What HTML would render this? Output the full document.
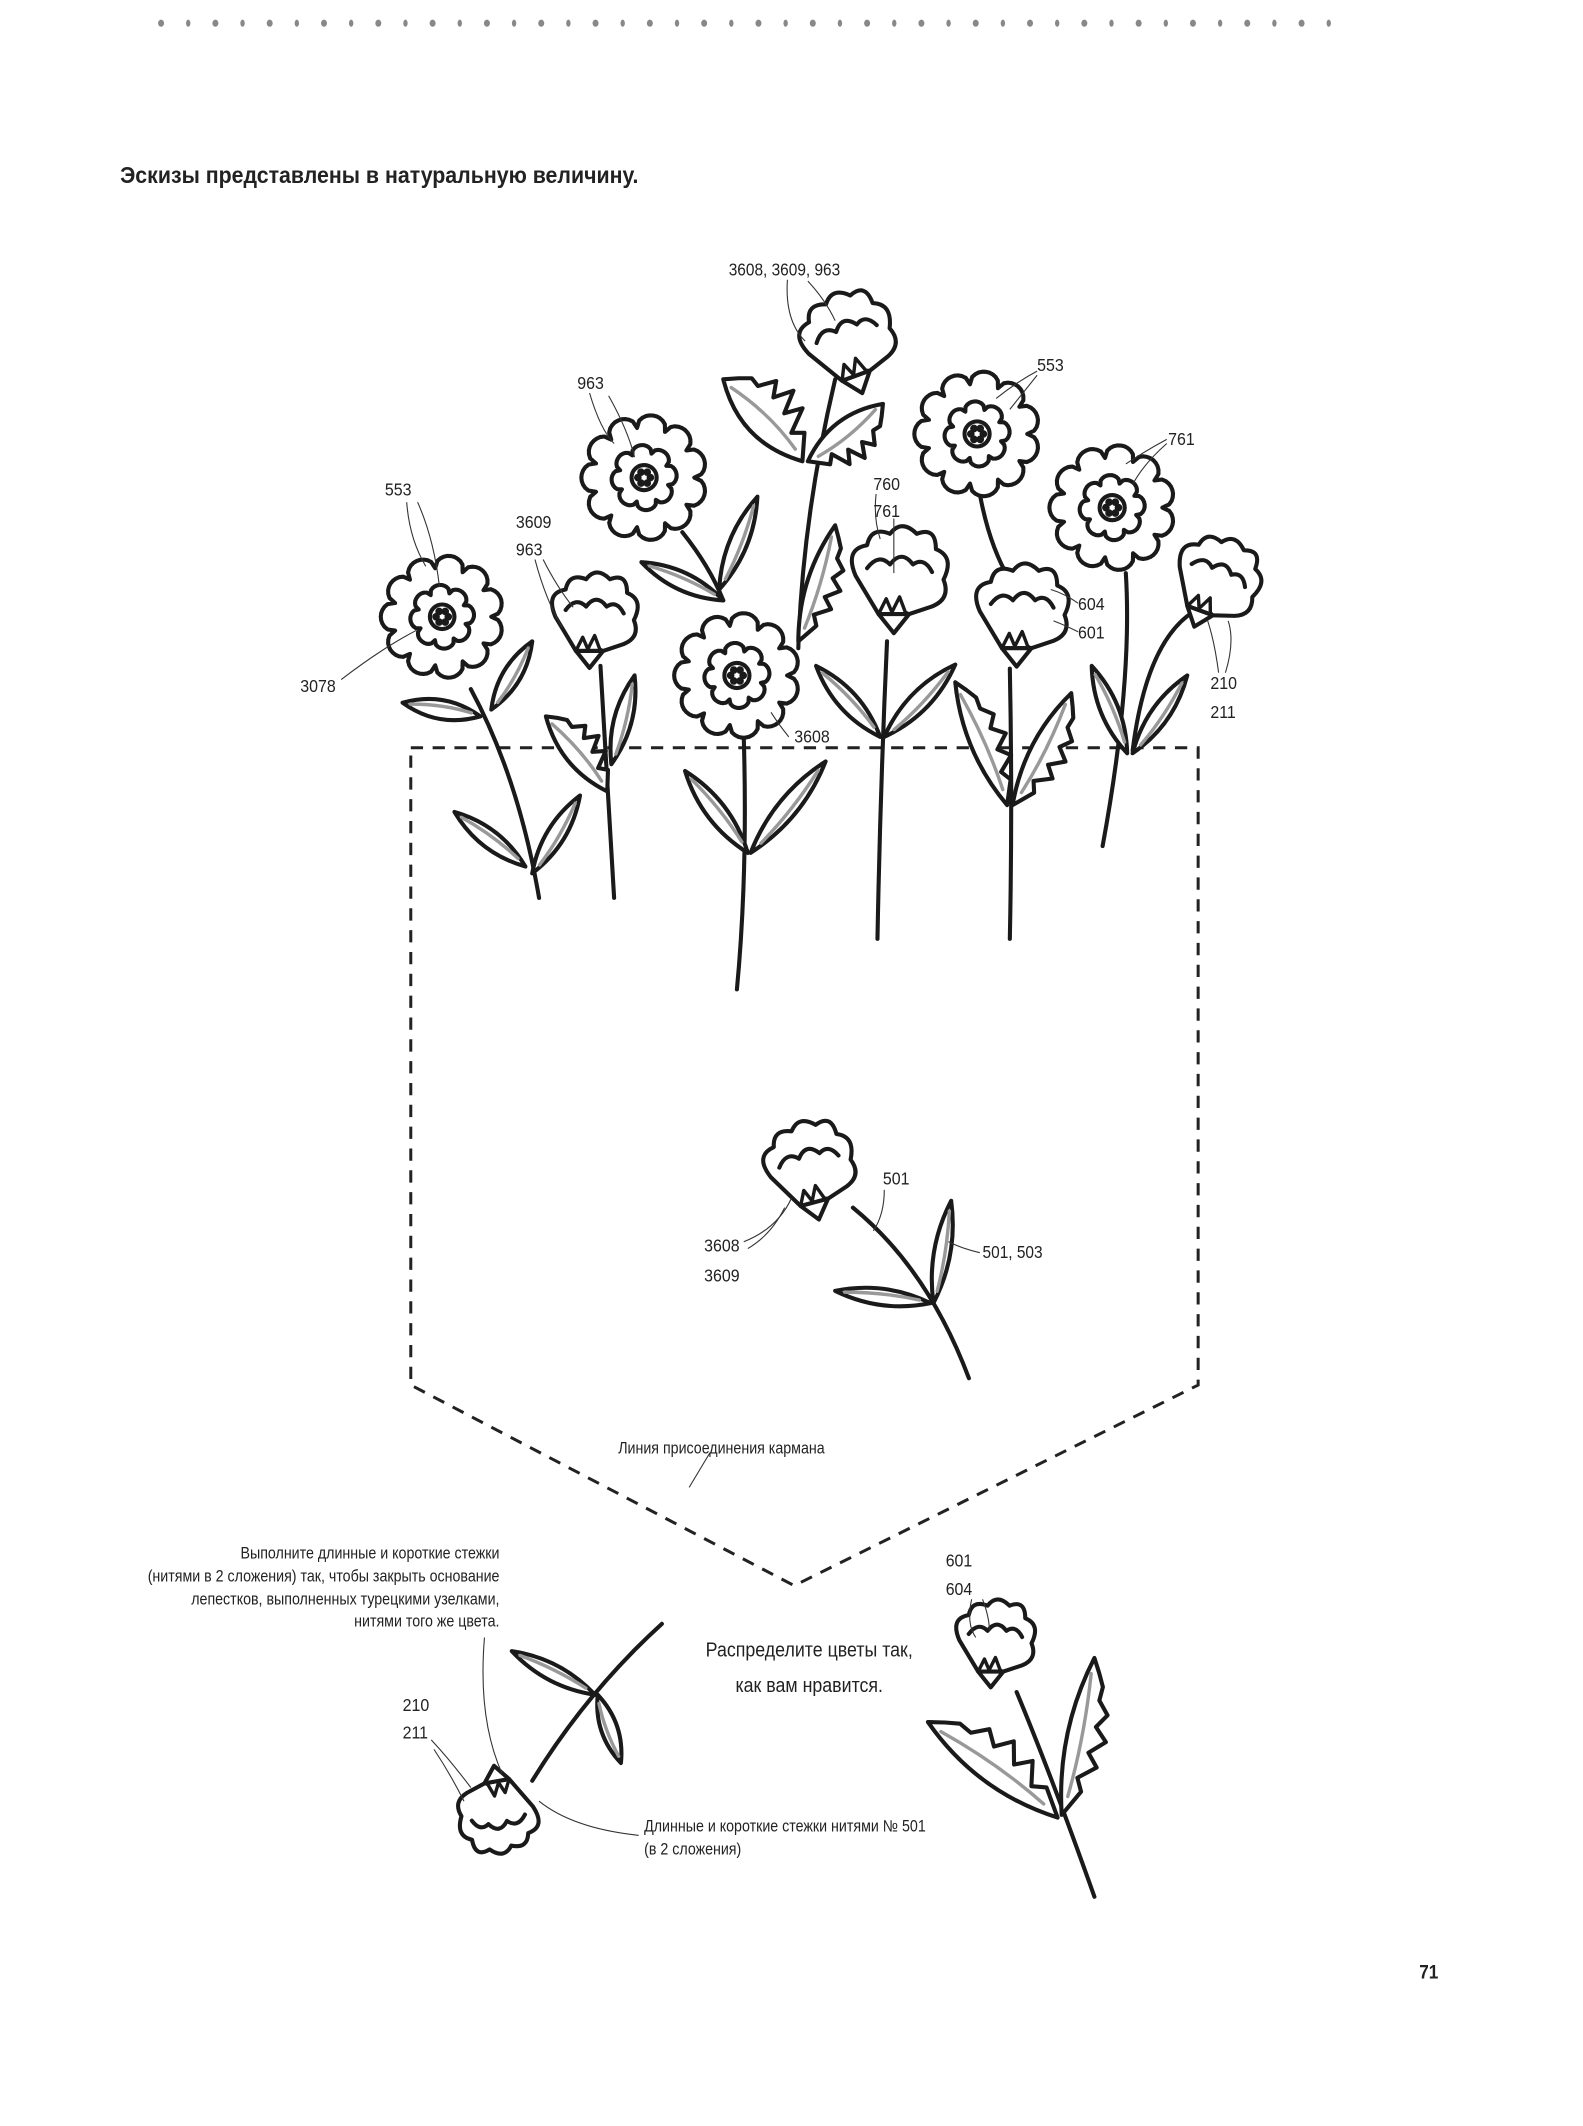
<!DOCTYPE html>
<html><head><meta charset="utf-8">
<style>
html,body{margin:0;padding:0;background:#fff}
svg{display:block}
text{font-family:"Liberation Sans Narrow","Liberation Sans","DejaVu Sans Condensed",sans-serif;fill:#222}
</style></head>
<body>
<svg id="s" width="1583" height="2126" viewBox="0 0 1160 1558" xmlns="http://www.w3.org/2000/svg">
<g id="dots"></g>
<text x="88" y="134" font-size="17" font-weight="bold" fill="#111">Эскизы представлены в натуральную величину.</text>

<path d="M301,548 L878,548 L878,1015 L582,1162 L301,1015 Z" fill="none" stroke="#222" stroke-width="2.2" stroke-dasharray="9,7"/>

<g id="art" fill="#fff" stroke="#1a1a1a" stroke-width="3" stroke-linejoin="round" stroke-linecap="round"></g>

<g fill="none" stroke="#333" stroke-width="0.8" id="leaders">
<path d="M577,205 Q575,235 590,250"/><path d="M592,206 Q605,220 612,235"/>
<path d="M432,288 Q440,315 450,325"/><path d="M446,290 Q460,315 465,335"/>
<path d="M298,368 Q300,395 312,415"/><path d="M306,368 Q318,395 322,430"/>
<path d="M392,410 Q400,440 412,460"/><path d="M398,410 Q408,430 420,445"/>
<path d="M250,498 Q280,475 305,462"/>
<path d="M578,540 Q570,530 565,522"/>
<path d="M760,272 Q745,280 730,292"/><path d="M760,275 Q748,290 740,300"/>
<path d="M855,322 Q840,330 825,340"/><path d="M855,325 Q838,340 830,355"/>
<path d="M642,362 Q640,380 645,395"/><path d="M655,380 L655,420"/>
<path d="M790,442 Q780,435 770,432"/><path d="M790,463 Q780,458 772,455"/>
<path d="M898,493 Q905,470 900,455"/><path d="M893,493 Q890,470 885,455"/>
<path d="M648,872 Q648,890 640,902"/>
<path d="M718,918 Q705,915 695,910"/>
<path d="M545,910 Q570,900 580,878"/><path d="M548,915 Q565,905 575,885"/>
<path d="M505,1090 L520,1065"/>
<path d="M355,1200 Q350,1260 368,1300"/>
<path d="M316,1275 Q330,1290 345,1310"/><path d="M318,1282 Q330,1300 340,1320"/>
<path d="M468,1345 Q420,1340 395,1320"/>
<path d="M712,1172 Q708,1190 715,1200"/><path d="M720,1172 Q725,1185 725,1195"/>
</g>

<g font-size="13" id="labels">
<text x="534" y="202">3608, 3609, 963</text>
<text x="423" y="285">963</text>
<text x="282" y="363">553</text>
<text x="378" y="387">3609</text>
<text x="378" y="407">963</text>
<text x="220" y="507">3078</text>
<text x="582" y="544">3608</text>
<text x="760" y="272">553</text>
<text x="856" y="326">761</text>
<text x="640" y="359">760</text>
<text x="640" y="379">761</text>
<text x="790" y="447">604</text>
<text x="790" y="468">601</text>
<text x="887" y="505">210</text>
<text x="887" y="526">211</text>
<text x="647" y="868">501</text>
<text x="720" y="922">501, 503</text>
<text x="516" y="917">3608</text>
<text x="516" y="939">3609</text>
<text x="453" y="1065" font-size="12">Линия присоединения кармана</text>
<g text-anchor="end" font-size="12">
<text x="366" y="1142">Выполните длинные и короткие стежки</text>
<text x="366" y="1159">(нитями в 2 сложения) так, чтобы закрыть основание</text>
<text x="366" y="1176">лепестков, выполненных турецкими узелками,</text>
<text x="366" y="1192">нитями того же цвета.</text>
</g>
<text x="295" y="1254">210</text>
<text x="295" y="1274">211</text>
<text x="472" y="1342" font-size="12">Длинные и короткие стежки нитями № 501</text>
<text x="472" y="1359" font-size="12">(в 2 сложения)</text>
<text x="593" y="1214" text-anchor="middle" font-size="15" fill="#444">Распределите цветы так,</text>
<text x="593" y="1240" text-anchor="middle" font-size="15" fill="#444">как вам нравится.</text>
<text x="693" y="1148">601</text>
<text x="693" y="1169">604</text>
<text x="1040" y="1450" font-size="14" font-weight="bold">71</text>
</g>
</svg>
<script>
var NS="http://www.w3.org/2000/svg";
var art=document.getElementById("art");
function el(t,a,p){var e=document.createElementNS(NS,t);for(var k in a)e.setAttribute(k,a[k]);(p||art).appendChild(e);return e;}
var d=document.getElementById("dots");
for(var i=0;i<44;i++){el("ellipse",{cx:118+i*19.9,cy:17,rx:i%2?1.6:2.2,ry:2.6,fill:"#888"},d);}
function scallop(cx,cy,R,n,amp,rot){var p="";var N=n*10;for(var i=0;i<=N;i++){var a=rot+i/N*Math.PI*2;var t=(i%10)/10;var r=R+amp*Math.sqrt(Math.sin(t*Math.PI));var x=cx+r*Math.cos(a),y=cy+r*Math.sin(a);p+=(i?"L":"M")+x.toFixed(1)+","+y.toFixed(1);}return p+"Z";}
function stem(x1,y1,qx,qy,x2,y2){el("path",{d:"M"+x1+","+y1+" Q"+qx+","+qy+" "+x2+","+y2,fill:"none"});}
function leaf(x1,y1,x2,y2,w,ser){var dx=x2-x1,dy=y2-y1,L=Math.hypot(dx,dy),nx=-dy/L,ny=dx/L;
 var m1x=x1+dx*0.5+nx*w,m1y=y1+dy*0.5+ny*w,m2x=x1+dx*0.5-nx*w,m2y=y1+dy*0.5-ny*w;
 var p="M"+x1+","+y1+" Q"+m1x+","+m1y+" "+x2+","+y2+" Q"+m2x+","+m2y+" "+x1+","+y1+"Z";
 if(ser){p="M"+x1+","+y1;var pts=[];for(var s=1;s<=5;s++){var t=s/6;var ww=w*Math.sin(t*Math.PI)*1.3;pts.push([x1+dx*t+nx*ww,y1+dy*t+ny*ww]);pts.push([x1+dx*(t+0.08)+nx*ww*0.55,y1+dy*(t+0.08)+ny*ww*0.55]);}
  pts.forEach(function(q){p+=" L"+q[0].toFixed(1)+","+q[1].toFixed(1)});p+=" L"+x2+","+y2+" Q"+m2x+","+m2y+" "+x1+","+y1+"Z";}
 el("path",{d:p});
 el("path",{d:"M"+(x1+dx*0.12+nx*w*0.1)+","+(y1+dy*0.12+ny*w*0.1)+" Q"+(x1+dx*0.5+nx*w*0.3)+","+(y1+dy*0.5+ny*w*0.3)+" "+(x1+dx*0.9)+","+(y1+dy*0.9),fill:"none",stroke:"#999","stroke-width":2.5});}
function dahlia(cx,cy,R){el("path",{d:scallop(cx,cy,R*0.8,11,R*0.2,0)});el("path",{d:scallop(cx,cy,R*0.4,8,R*0.12,0.3)});
 el("circle",{cx:cx,cy:cy,r:R*0.2,"stroke-width":3});
 for(var i=0;i<6;i++){var a=i/6*Math.PI*2;el("circle",{cx:cx+R*0.1*Math.cos(a),cy:cy+R*0.1*Math.sin(a),r:2.3,fill:"#1a1a1a","stroke-width":1});}}
function carn(cx,cy,s,rot){var g=el("g",{transform:"translate("+cx+","+cy+") rotate("+(rot||0)+") scale("+s+")"});
 el("path",{d:"M-8,20 L-20,0 Q-26,-14 -14,-16 Q-12,-26 -2,-22 Q4,-30 12,-22 Q22,-26 22,-14 Q32,-10 26,2 Q30,12 20,16 L8,20 Z","stroke-width":3/s},g);
 el("path",{d:"M-14,-4 Q-8,-12 -2,-6 Q4,-14 10,-6 Q16,-10 20,-2",fill:"none","stroke-width":3/s},g);
 el("path",{d:"M-8,20 L-4,12 L-1,19 L3,11 L6,19 L8,20",fill:"none","stroke-width":2.5/s},g);
 el("path",{d:"M-8,20 L0,30 L8,20Z","stroke-width":3/s},g);}
stem(345,505,380,570,395,658);stem(440,488,445,570,450,658);stem(500,390,520,415,530,440);
stem(612,278,588,380,585,475);stem(545,540,548,640,540,725);stem(650,470,645,580,643,688);
stem(718,362,725,400,740,425);stem(740,490,742,590,740,688);stem(825,420,830,500,808,620);
stem(875,448,840,470,830,550);
stem(625,885,680,930,710,1010);stem(745,1240,770,1300,802,1390);stem(390,1305,430,1240,485,1190);
leaf(352,525,295,515,14);leaf(360,520,390,470,13);leaf(385,635,333,595,13);leaf(390,640,425,583,13);
leaf(445,580,400,525,16,1);leaf(448,560,465,495,13);
leaf(530,440,470,412,13);leaf(527,432,555,364,13);
leaf(588,338,530,278,24,1);leaf(592,338,647,296,18,1);leaf(585,470,612,385,14,1);
leaf(548,625,502,565,14);leaf(550,625,605,558,14);
leaf(645,540,598,488,14);leaf(648,540,700,487,14);
leaf(738,590,700,500,15,1);leaf(742,590,785,508,15,1);
leaf(826,552,800,488,13);leaf(830,552,870,495,13);
leaf(682,955,612,946,12);leaf(684,955,697,880,12);
leaf(775,1332,680,1262,20,1);leaf(778,1330,802,1215,16,1);
leaf(436,1242,375,1210,12);leaf(438,1242,455,1292,12);
dahlia(324,452,45);dahlia(472,350,46);dahlia(540,495,46);dahlia(716,318,46);dahlia(815,372,46);
carn(618,250,1.35,-20);carn(432,452,1.25,0);carn(655,422,1.4,0);carn(745,448,1.35,0);carn(888,424,1.25,20);
carn(590,856,1.3,-15);carn(726,1202,1.15,0);carn(368,1328,1.15,170);
// condense text
var ts=document.querySelectorAll("text");
for(var i=0;i<ts.length;i++){var t=ts[i];var f=t.textContent.length<5?0.9:0.87;if(t.getAttribute("font-weight")=="bold"&&t.textContent.length>5)f=0.92;
 var w=t.getComputedTextLength();t.setAttribute("textLength",(w*f).toFixed(1));t.setAttribute("lengthAdjust","spacingAndGlyphs");}
</script>
</body></html>
